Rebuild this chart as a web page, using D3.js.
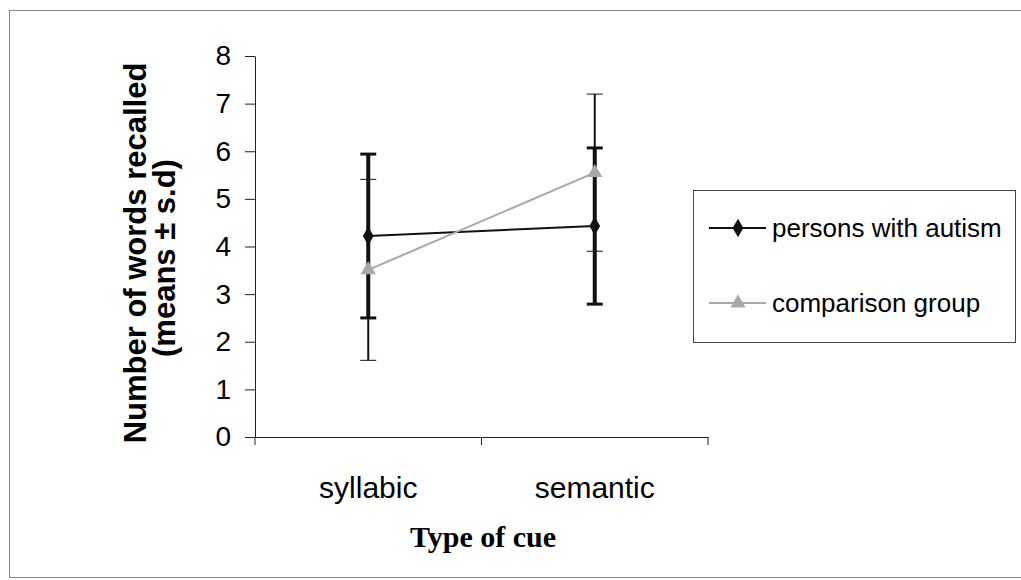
<!DOCTYPE html>
<html lang="en">
<head>
    <meta charset="UTF-8">
    <title>Words recalled by type of cue</title>
    <script src="https://d3js.org/d3.v7.min.js"></script>
    <style>
        body {
            margin: 0;
            background: #fff;
            font-family: Arial, "Liberation Sans", sans-serif;
        }
        .axis path, .axis line {
            stroke: #222;
            stroke-width: 1px;
        }
    </style>
</head>
<body>
    <div id="chart"></div>

    <script>
        // data
        const cues = ["syllabic", "semantic"];
        const autismMeans = [4.22, 4.43];
        const autismSD = [1.72, 1.64];
        const comparisonMeans = [3.51, 5.55];
        const comparisonSD = [1.90, 1.65];
        const yTicks = [0, 1, 2, 3, 4, 5, 6, 7, 8];

        const width = 1021;
        const height = 580;

        const svg = d3.select("#chart")
            .append("svg")
            .attr("width", width)
            .attr("height", height);

        // outer frame
        svg.append("rect")
            .attr("x", 9.5)
            .attr("y", 10.5)
            .attr("width", 1030)
            .attr("height", 567)
            .attr("fill", "none")
            .attr("stroke", "#888");

        const x = d3.scaleBand()
            .domain(cues)
            .range([255, 708]);

        const y = d3.scaleLinear()
            .domain([0, 8])
            .range([437, 56]);

        // y axis
        const yAxis = svg.append("g")
            .attr("class", "axis")
            .attr("transform", "translate(255,0)")
            .call(d3.axisLeft(y).tickValues(yTicks).tickSize(10).tickPadding(14).tickSizeOuter(0));
        yAxis.selectAll("text")
            .attr("font-size", 28)
            .attr("font-family", "Arial, 'Liberation Sans', sans-serif")
            .attr("fill", "#000");

        // x axis
        const xAxis = svg.append("g")
            .attr("class", "axis")
            .attr("transform", "translate(0,437)")
            .call(d3.axisBottom(x).tickSize(0).tickPadding(40).tickSizeOuter(0));
        xAxis.selectAll("text")
            .attr("font-size", 30)
            .attr("font-family", "Arial, 'Liberation Sans', sans-serif")
            .attr("fill", "#000");

        // category boundary ticks
        const edges = cues.map(c => x(c)).concat([x(cues[cues.length - 1]) + x.bandwidth()]);
        xAxis.selectAll(".edge")
            .data(edges)
            .enter()
            .append("line")
            .attr("class", "edge")
            .attr("x1", d => d)
            .attr("x2", d => d)
            .attr("y1", 0)
            .attr("y2", 8);

        const cx = c => x(c) + x.bandwidth() / 2;
        const capW = 8;

        const series = [
            { name: "comparison group", means: comparisonMeans, sd: comparisonSD, color: "#a8a8a8", barW: 2, shape: d3.symbolTriangle },
            { name: "persons with autism", means: autismMeans, sd: autismSD, color: "#111", barW: 4, shape: d3.symbolDiamond }
        ];

        // error bars
        series.forEach(s => {
            const g = svg.append("g");
            cues.forEach((c, i) => {
                const hi = s.means[i] + s.sd[i];
                const lo = s.means[i] - s.sd[i];
                g.append("line")
                    .attr("x1", cx(c)).attr("x2", cx(c))
                    .attr("y1", y(hi)).attr("y2", y(lo))
                    .attr("stroke", "#111")
                    .attr("stroke-width", s.barW);
                [hi, lo].forEach(v => {
                    g.append("line")
                        .attr("x1", cx(c) - capW).attr("x2", cx(c) + capW)
                        .attr("y1", y(v)).attr("y2", y(v))
                        .attr("stroke", "#111")
                        .attr("stroke-width", s.barW - 1);
                });
            });
        });

        // lines and markers
        const line = d3.line()
            .x((d, i) => cx(cues[i]))
            .y(d => y(d));

        series.slice().reverse().forEach(s => {
            svg.append("path")
                .datum(s.means)
                .attr("d", line)
                .attr("fill", "none")
                .attr("stroke", s.color)
                .attr("stroke-width", 2);
        });
        series.forEach(s => {
            svg.selectAll(null)
                .data(s.means)
                .enter()
                .append("path")
                .attr("d", d3.symbol().type(s.shape).size(100))
                .attr("transform", (d, i) => `translate(${cx(cues[i])},${y(d)})`)
                .attr("fill", s.color);
        });

        // axis titles
        svg.append("text")
            .attr("transform", "translate(146,253) rotate(-90)")
            .attr("text-anchor", "middle")
            .attr("font-size", 31)
            .attr("font-weight", "bold")
            .text("Number of words recalled");
        svg.append("text")
            .attr("transform", "translate(175,258) rotate(-90)")
            .attr("text-anchor", "middle")
            .attr("font-size", 31)
            .attr("font-weight", "bold")
            .text("(means \u00b1 s.d)");

        svg.append("text")
            .attr("x", 483)
            .attr("y", 547)
            .attr("text-anchor", "middle")
            .attr("font-family", "'Liberation Serif', 'Times New Roman', serif")
            .attr("font-weight", "bold")
            .attr("font-size", 30)
            .text("Type of cue");

        // legend
        const legend = svg.append("g");
        legend.append("rect")
            .attr("x", 693.5)
            .attr("y", 190.5)
            .attr("width", 322)
            .attr("height", 152)
            .attr("fill", "#fff")
            .attr("stroke", "#444");

        const legendRows = [series[1], series[0]];
        const rowY = [228, 303];
        legendRows.forEach((s, i) => {
            legend.append("line")
                .attr("x1", 709).attr("x2", 766)
                .attr("y1", rowY[i]).attr("y2", rowY[i])
                .attr("stroke", s.color)
                .attr("stroke-width", 2);
            legend.append("path")
                .attr("d", d3.symbol().type(s.shape).size(100))
                .attr("transform", `translate(738,${rowY[i]})`)
                .attr("fill", s.color);
            legend.append("text")
                .attr("x", 772)
                .attr("y", rowY[i])
                .attr("dy", "0.35em")
                .attr("font-size", 26)
                .text(s.name);
        });
    </script>
</body>
</html>
